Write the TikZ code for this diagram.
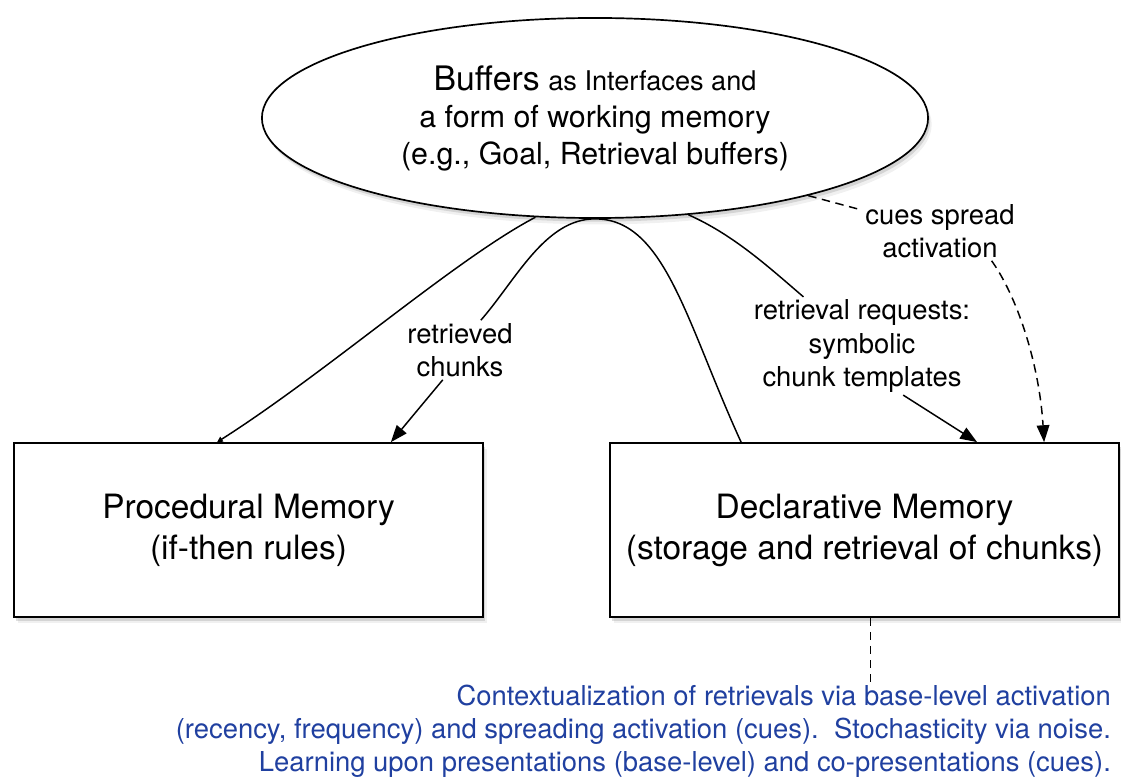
\documentclass[tikz,border=0pt]{standalone}
\usepackage{fontspec}
\setmainfont{TeX Gyre Heros}
\usepackage{xcolor}
\usepackage{tikz}
\usetikzlibrary{arrows.meta,shapes,calc,shadows}
\definecolor{noteblue}{RGB}{32,64,160}

\begin{document}
\begin{tikzpicture}[x=0.025cm, y=-0.025cm,
    memshadow/.style={drop shadow={shadow xshift=0.09cm, shadow yshift=-0.16cm, opacity=0.12},
        drop shadow={shadow xshift=0.05cm, shadow yshift=-0.09cm, opacity=0.25}},
    membox/.style={draw, line width=1.2pt, fill=white, minimum height=4.35cm, align=center,
        font=\fontsize{23.8pt}{29.2pt}\selectfont, memshadow},
    lbl/.style={align=center, inner sep=2pt, font=\fontsize{19.5pt}{23.5pt}\selectfont},
    conn/.style={line width=1.05pt},
    dconn/.style={conn, dash pattern=on 6pt off 4pt},
    headarrow/.style={-{Triangle[length=12pt,width=9pt]}}]
    \useasboundingbox (0,0) rectangle (1121,780);

    % Buffers
    \node[ellipse, draw, line width=1.2pt, fill=white, inner sep=0pt, minimum width=16.65cm,
        minimum height=5cm, align=center, font=\fontsize{21.6pt}{26.3pt}\selectfont, memshadow]
        (buf) at (595,118) {{\fontsize{24pt}{26.3pt}\selectfont Buffers}
        {\fontsize{19.3pt}{26.3pt}\selectfont as Interfaces and}\\a form of working memory\\(e.g., Goal, Retrieval buffers)};

    % Memory modules
    \node[membox, minimum width=11.725cm] (proc) at (248.5,530) {Procedural Memory\\(if-then rules)};
    \node[membox, minimum width=12.725cm] (decl) at (864.5,530) {Declarative Memory\\(storage and retrieval of chunks)};

    % Labels
    \node[lbl] (retr) at (460,350) {retrieved\\chunks};
    \node[lbl] (req) at (862,346) {retrieval requests:\\symbolic\\chunk templates};
    \node[lbl] (cues) at (940,231) {cues spread\\activation};
    \node[lbl, text=noteblue, align=right, anchor=east] (ctx) at (1114,731)
        {Contextualization of retrievals via base-level activation\\
        (recency, frequency) and spreading activation (cues).\ \ Stochasticity via noise.\\
        Learning upon presentations (base-level) and co-presentations (cues).};

    % Ends on the boxes
    \coordinate (procin) at ($(proc.north west)+(204,0)$);
    \coordinate (procret) at ($(proc.north east)+(-93,0)$);
    \coordinate (declout) at ($(decl.north west)+(132,0)$);
    \coordinate (declreq) at ($(decl.north west)+(368,0)$);
    \coordinate (declcue) at ($(decl.north west)+(435,0)$);
    \coordinate (declnote) at ($(decl.south)+(6,0)$);

    % Connectors
    \draw[conn, -{Triangle[length=4pt,width=4pt]}] (buf.239) .. controls +(-80,42) and +(110,-70) .. (procin);
    \draw[conn] (declout) .. controls +(-55,-120) and +(70,0) .. (buf.south)
        .. controls +(-50,0) and +(35,-40) .. (retr.55);
    \draw[conn, headarrow] (retr.240) -- (procret);
    \draw[conn] (buf.314) .. controls +(45,20) and +(-35,-30) .. (req.140);
    \draw[conn, headarrow] (req.-50) -- (declreq);
    \draw[dconn] (buf.340) -- (cues.165);
    \draw[dconn, headarrow] (cues.-30) .. controls +(25,35) and +(-5,-80) .. (declcue);
    \draw[dconn] (declnote) -- (declnote |- ctx.north);
\end{tikzpicture}
\end{document}
